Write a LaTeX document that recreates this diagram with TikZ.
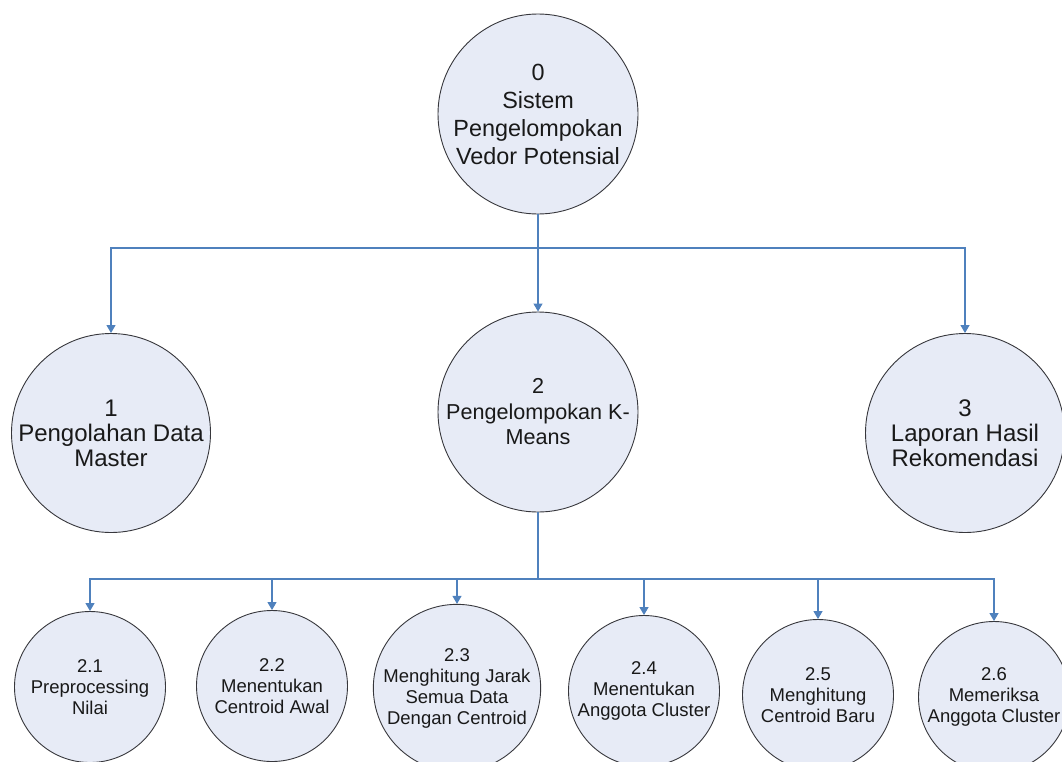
\documentclass[tikz,border=0pt]{standalone}
\usepackage{fontspec}
\setmainfont{Liberation Sans}
\usetikzlibrary{arrows.meta}

\definecolor{procfill}{RGB}{231,235,246}
\definecolor{procline}{RGB}{55,55,60}
\definecolor{flowblue}{RGB}{79,129,189}

\tikzset{
  proc/.style={circle, draw=procline, line width=0.9pt, fill=procfill,
    inner sep=0pt, align=center, text=black!90},
  bigproc/.style={proc, minimum size=199pt,
    font=\fontsize{24}{25}\selectfont},
  smallproc/.style={proc, minimum size=151pt,
    font=\fontsize{18.5}{21}\selectfont},
  flow/.style={draw=flowblue, line width=1.1pt},
  flowarrow/.style={flow, -{Triangle[width=9pt,length=8pt]}}
}

\begin{document}
\begin{tikzpicture}[x=1pt, y=-1pt]
  \path[use as bounding box] (0,0) rectangle (1062,761);
  \clip (0,0) rectangle (1062,761);

  % context process
  \node[bigproc, minimum size=200pt, font=\fontsize{23.4}{28}\selectfont]
    (p0) at (538,114) {0\\Sistem\\Pengelompokan\\Vedor Potensial};

  % level 1 processes
  \node[bigproc] (p1) at (111,433) {1\\Pengolahan Data\\Master};
  \node[bigproc, minimum size=200pt, font=\fontsize{21.6}{25.5}\selectfont]
    (p2) at (538,412) {2\\Pengelompokan K-\\Means};
  \node[bigproc] (p3) at (965,433) {3\\Laporan Hasil\\Rekomendasi};

  % level 2 processes
  \node[smallproc] (p21) at (90,687) {2.1\\Preprocessing\\Nilai};
  \node[smallproc] (p22) at (272,686) {2.2\\Menentukan\\Centroid Awal};
  \node[smallproc] (p23) at (457,688) {2.3\\Menghitung Jarak\\Semua Data\\Dengan Centroid};
  \node[smallproc] (p24) at (644,691) {2.4\\Menentukan\\Anggota Cluster};
  \node[smallproc] (p25) at (818,695) {2.5\\Menghitung\\Centroid Baru};
  \node[smallproc] (p26) at (994,697) {2.6\\Memeriksa\\Anggota Cluster};

  % decomposition of process 0
  \coordinate (j0) at (538,248);
  \draw[flow] (p0.south) -- (j0);
  \draw[flowarrow] (j0) -| (p1.north);
  \draw[flowarrow] (j0) -- (p2.north);
  \draw[flowarrow] (j0) -| (p3.north);

  % decomposition of process 2
  \coordinate (j2) at (538,579);
  \draw[flow] (p2.south) -- (j2);
  \foreach \p in {p21,p22,p23,p24,p25,p26}
    \draw[flowarrow] (j2) -| (\p.north);
\end{tikzpicture}
\end{document}
